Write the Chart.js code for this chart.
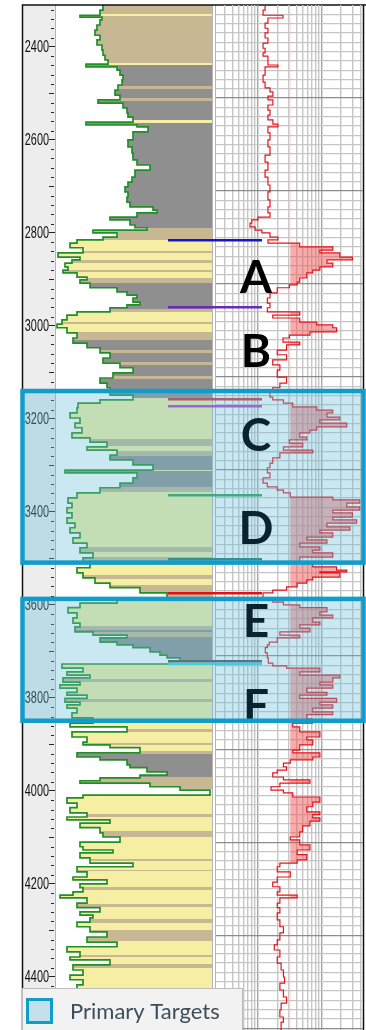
<!DOCTYPE html>
<html>
<head>
<meta charset="utf-8">
<title>Well log – primary targets</title>
<script src="https://cdn.jsdelivr.net/npm/chart.js@4.4.1/dist/chart.umd.min.js"></script>
<style>
  html, body { margin: 0; padding: 0; background: #fff; }
  #wrap { position: relative; width: 366px; height: 1030px; overflow: hidden; }
  #wrap canvas { position: absolute; left: 0; top: 0; }
</style>
</head>
<body>
<div id="wrap">
  <canvas id="gr" width="366" height="1030"></canvas>
  <canvas id="res" width="366" height="1030"></canvas>
</div>
<script>
// depth window (m) and depth labels
const depthTop = 2310;
const depthBase = 4514;
const depthTicks = [2400, 2600, 2800, 3000, 3200, 3400, 3600, 3800, 4000, 4200, 4400];

// gamma ray track: [depth, GR]
const grScaleMax = 157;
const grSamples = [
  [2310,48],[2321,45],[2332,25],[2336,47],[2342,45],[2353,42],[2364,40],[2375,45],[2385,42],[2396,47],
  [2407,48],[2418,50],[2428,53],[2437,31],[2443,62],[2450,65],[2461,68],[2471,67],[2482,63],[2493,60],
  [2504,65],[2514,43],[2521,68],[2531,72],[2542,73],[2551,78],[2562,31],[2568,82],[2572,93],[2583,78],
  [2600,73],[2615,77],[2628,78],[2643,82],[2654,95],[2665,80],[2680,77],[2691,73],[2701,70],[2712,73],
  [2723,72],[2734,75],[2744,98],[2751,102],[2757,82],[2766,55],[2772,75],[2783,80],[2789,92],[2794,38],
  [2800,62],[2809,48],[2815,22],[2822,15],[2832,28],[2843,3],[2852,25],[2858,17],[2865,10],[2873,13],
  [2880,8],[2886,22],[2895,32],[2901,25],[2908,35],[2918,62],[2927,72],[2934,82],[2940,78],[2949,85],
  [2955,72],[2961,55],[2970,22],[2977,12],[2987,7],[2996,2],[3004,12],[3015,22],[3026,18],[3037,32],
  [3047,45],[3058,55],[3069,48],[3080,65],[3090,78],[3101,58],[3112,45],[3123,52],[3133,55],[3149,78],
  [3159,45],[3166,23],[3176,22],[3187,15],[3198,25],[3209,20],[3219,27],[3230,17],[3241,35],[3250,52],
  [3260,32],[3267,62],[3278,55],[3288,78],[3299,98],[3310,10],[3316,82],[3327,78],[3338,65],[3348,45],
  [3359,22],[3370,13],[3381,17],[3391,12],[3402,17],[3413,12],[3424,20],[3434,15],[3445,25],[3456,18],
  [3467,32],[3477,25],[3488,38],[3499,28],[3510,35],[3520,22],[3531,28],[3542,40],[3553,55],[3563,85],
  [3574,112],[3585,62],[3596,25],[3606,13],[3617,22],[3628,18],[3639,25],[3647,20],[3658,38],[3665,72],
  [3671,45],[3680,62],[3686,78],[3692,95],[3701,105],[3708,112],[3714,125],[3721,115],[3727,7],[3736,28],
  [3744,12],[3751,35],[3757,8],[3766,25],[3772,5],[3779,22],[3788,12],[3794,32],[3801,10],[3809,25],
  [3815,12],[3822,22],[3832,17],[3843,38],[3854,15],[3862,72],[3873,17],[3884,32],[3895,28],[3901,55],
  [3907,85],[3918,22],[3927,45],[3933,72],[3944,75],[3950,92],[3959,112],[3966,85],[3972,45],[3978,25],
  [3983,95],[3991,125],[3998,155],[4004,155],[4009,28],[4015,12],[4026,22],[4036,15],[4047,32],[4056,12],
  [4062,55],[4069,25],[4079,45],[4090,48],[4099,65],[4110,25],[4120,28],[4127,58],[4133,25],[4144,35],
  [4155,78],[4163,22],[4174,32],[4185,18],[4191,52],[4200,25],[4208,28],[4217,18],[4224,5],[4230,32],
  [4241,22],[4251,45],[4260,25],[4267,38],[4273,35],[4282,22],[4292,35],[4303,52],[4314,32],[4325,62],
  [4335,12],[4346,25],[4357,15],[4363,55],[4374,18],[4385,28],[4396,15],[4406,28],[4417,22],[4449,25],
  [4482,23],[4514,25]
];

// lithology column: [top depth, kind]
const lithology = [
  [2310,'tan'],[2330,'sand'],[2334,'tan'],[2435,'sand'],[2440,'shale'],[2485,'tan'],[2490,'shale'],
  [2511,'tan'],[2517,'shale'],[2558,'sand'],[2563,'shale'],[2789,'tan'],[2815,'sand'],[2839,'tan'],
  [2844,'sand'],[2859,'tan'],[2864,'sand'],[2879,'tan'],[2884,'sand'],[2896,'tan'],[2908,'shale'],
  [2963,'tan'],[2970,'sand'],[2991,'tan'],[2995,'sand'],[3013,'tan'],[3030,'shale'],[3051,'tan'],
  [3059,'shale'],[3077,'tan'],[3085,'shale'],[3107,'tan'],[3115,'shale'],[3155,'sand'],[3244,'tan'],
  [3259,'sand'],[3270,'tan'],[3279,'shale'],[3309,'sand'],[3313,'shale'],[3347,'tan'],[3358,'sand'],
  [3476,'tan'],[3487,'sand'],[3498,'tan'],[3505,'sand'],[3535,'tan'],[3545,'sand'],[3558,'tan'],
  [3585,'sand'],[3646,'tan'],[3653,'shale'],[3659,'tan'],[3670,'shale'],[3722,'sand'],[3760,'tan'],
  [3765,'sand'],[3803,'tan'],[3808,'sand'],[3867,'tan'],[3874,'sand'],[3896,'tan'],[3902,'sand'],
  [3915,'tan'],[3921,'shale'],[3971,'tan'],[3995,'sand'],[4050,'tan'],[4055,'sand'],[4087,'tan'],
  [4100,'sand'],[4147,'tan'],[4151,'sand'],[4169,'tan'],[4173,'sand'],[4207,'tan'],[4214,'sand'],
  [4244,'tan'],[4249,'sand'],[4276,'tan'],[4283,'sand'],[4300,'tan'],[4322,'sand'],[4352,'tan'],
  [4356,'sand'],[4373,'tan'],[4380,'sand']
];

// resistivity track (ohm.m, log): [depth, value]
const resMin = 2.2;
const resMax = 440;
const resCutoff = 32;
const resGridTicks = [3, 4, 5, 6, 7, 8, 9, 10, 20, 30, 40, 50, 60, 70, 80, 90, 100, 200, 300, 400];
const resSamples = [
  [2310,12.9],[2321,12],[2332,24.6],[2338,14.3],[2349,12.9],[2360,14.3],[2370,12.9],[2381,14.3],[2392,12],
  [2403,12.9],[2413,12],[2420,14.3],[2439,20.5],[2443,12.9],[2461,12],[2476,12.9],[2488,15.4],[2497,17.1],
  [2506,14.3],[2514,17.1],[2525,14.3],[2536,15.4],[2547,14.3],[2557,17.1],[2566,20.5],[2572,14.3],[2585,15.4],
  [2600,14.3],[2615,15.4],[2633,12.9],[2648,14.3],[2665,12.9],[2680,14.3],[2697,15.4],[2712,14.3],[2729,15.4],
  [2744,14.3],[2757,15.4],[2766,10],[2772,8],[2779,7.5],[2787,9],[2794,11.5],[2800,15.4],[2809,20.5],
  [2815,14.3],[2822,45],[2830,148],[2837,93],[2843,191],[2852,300],[2858,120],[2865,148],[2873,93],[2880,72],
  [2886,58],[2897,45],[2906,41],[2912,31],[2918,20],[2929,15.4],[2940,14],[2951,15.4],[2961,14],[2970,45],
  [2977,17],[2983,45],[2992,83],[2998,148],[3004,170],[3013,65],[3020,31],[3026,24.6],[3035,45],[3041,28],
  [3052,20],[3062,28],[3073,17],[3084,22],[3095,20],[3110,28],[3123,22],[3133,17],[3142,15.4],[3153,17],
  [3159,25],[3166,35],[3174,83],[3181,148],[3187,120],[3196,191],[3202,93],[3209,245],[3217,83],[3224,65],
  [3230,45],[3239,58],[3245,31],[3252,50],[3260,25],[3267,72],[3273,22],[3284,17],[3295,15.4],[3305,14],
  [3316,15.4],[3327,12],[3338,14],[3346,20],[3353,25],[3359,32],[3368,148],[3374,391],[3381,245],[3389,391],
  [3396,148],[3402,300],[3411,148],[3417,350],[3424,120],[3432,275],[3439,93],[3445,148],[3454,58],[3460,120],
  [3467,45],[3475,93],[3482,72],[3488,148],[3497,45],[3508,72],[3518,170],[3525,245],[3529,93],[3531,191],
  [3540,72],[3546,58],[3553,41],[3561,28],[3568,17],[3574,12],[3585,17],[3594,25],[3600,45],[3606,120],
  [3615,93],[3622,148],[3628,72],[3637,93],[3643,45],[3650,65],[3658,22],[3665,45],[3671,20],[3680,15],
  [3686,14],[3692,13],[3703,14],[3714,14.5],[3725,17],[3731,28],[3736,93],[3744,45],[3751,191],[3757,148],
  [3766,93],[3772,148],[3779,58],[3788,120],[3794,45],[3801,170],[3809,93],[3815,148],[3822,72],[3830,148],
  [3836,58],[3845,72],[3854,35],[3862,45],[3873,93],[3884,58],[3890,72],[3901,45],[3912,35],[3918,93],
  [3927,72],[3933,32],[3940,25],[3948,28],[3955,20],[3961,17],[3970,25],[3976,65],[3983,22],[3991,16],
  [3998,25],[4004,35],[4013,93],[4024,72],[4034,58],[4045,93],[4051,72],[4058,93],[4065,65],[4075,50],
  [4088,45],[4099,32],[4105,45],[4116,65],[4127,41],[4137,58],[4148,41],[4155,22],[4163,20],[4174,32],
  [4185,20],[4196,17],[4206,22],[4217,20],[4224,41],[4230,22],[4241,20],[4251,22],[4262,20],[4277,22],
  [4292,25],[4305,22],[4320,20],[4331,18],[4342,22],[4357,20],[4370,23],[4385,25],[4400,26],[4413,22],
  [4428,25],[4443,28],[4456,23],[4471,22],[4486,25],[4497,23],[4514,22]
];

// formation tops, zones and targets
const markerDepth = [2816, 2960, 3158, 3173, 3364, 3502, 3575, 3721, 3727];
const zoneNames = ['A', 'B', 'C', 'D', 'E', 'F'];
const zoneMid = [2894, 3052, 3234, 3433, 3633, 3817];
const targetTop = [3140, 3587];
const targetBase = [3509, 3849];
const legendLabel = 'Primary Targets';

// styles
const LITH_COLORS = { sand: '#f6efa3', tan: '#c8b793', shale: '#8f8f8f' };
const MARKER_COLORS = ['#1616c8', '#6a2ab8', '#d42a3c', '#b238de', '#2f9e55', '#1c7a68', '#e31212', '#3f5560', '#38d2ea'];
const TARGET_EDGE = '#119cca';
const TARGET_TINT = 'rgba(100,190,215,0.35)';

let lithCache = null;
function lithGradient(chart) {
  const area = chart.chartArea;
  if (!area) return LITH_COLORS.sand;
  const key = area.top + ':' + area.bottom;
  if (lithCache && lithCache.key === key) return lithCache.g;
  const ys = chart.scales.y;
  const h = area.bottom - area.top;
  const frac = d => Math.min(Math.max((ys.getPixelForValue(d) - area.top) / h, 0), 1);
  const g = chart.ctx.createLinearGradient(0, area.top, 0, area.bottom);
  lithology.forEach(([d, kind], i) => {
    const next = i + 1 < lithology.length ? lithology[i + 1][0] : depthBase;
    g.addColorStop(frac(d), LITH_COLORS[kind]);
    g.addColorStop(frac(next), LITH_COLORS[kind]);
  });
  lithCache = { key, g };
  return g;
}

let payCache = null;
function payGradient(chart) {
  const area = chart.chartArea;
  if (!area) return 'rgba(0,0,0,0)';
  const key = area.left + ':' + area.right;
  if (payCache && payCache.key === key) return payCache.g;
  const f = (chart.scales.x.getPixelForValue(resCutoff) - area.left) / (area.right - area.left);
  const g = chart.ctx.createLinearGradient(area.left, 0, area.right, 0);
  g.addColorStop(0, 'rgba(240,80,80,0)');
  g.addColorStop(f, 'rgba(240,80,80,0)');
  g.addColorStop(f, 'rgba(240,80,80,0.48)');
  g.addColorStop(1, 'rgba(240,80,80,0.48)');
  payCache = { key, g };
  return g;
}

const grFrame = {
  id: 'grFrame',
  beforeDraw(chart) {
    const { ctx, chartArea: a } = chart;
    ctx.save();
    ctx.fillStyle = '#fff';
    ctx.fillRect(0, 0, chart.width, chart.height);
    ctx.fillStyle = '#eeeded';
    ctx.fillRect(22, a.top, a.left - 22, a.bottom - a.top);
    ctx.restore();
  },
  afterDraw(chart) {
    const { ctx, chartArea: a } = chart;
    const ys = chart.scales.y;
    ctx.save();
    // depth labels, narrow like the log header font
    ctx.fillStyle = '#111';
    ctx.font = '16px "Liberation Sans", Arial, sans-serif';
    ctx.textAlign = 'right';
    ctx.textBaseline = 'middle';
    depthTicks.forEach(v => {
      ctx.save();
      ctx.translate(a.left - 6, ys.getPixelForValue(v) + 0.5);
      ctx.scale(0.68, 1);
      ctx.fillText(String(v), 0, 0);
      ctx.restore();
    });
    // minor depth ticks
    ctx.strokeStyle = '#222';
    ctx.lineWidth = 1;
    for (let v = depthTop + 10; v < depthBase; v += 20) {
      if (v % 200 === 0) continue;
      const y = Math.round(ys.getPixelForValue(v)) + 0.5;
      const len = v % 100 === 0 ? 5 : 3;
      ctx.beginPath();
      ctx.moveTo(a.left - len - 1, y);
      ctx.lineTo(a.left - 1, y);
      ctx.stroke();
    }
    // track frames
    ctx.strokeStyle = '#b4b4b4';
    ctx.beginPath();
    ctx.moveTo(a.left + 0.5, a.top); ctx.lineTo(a.left + 0.5, a.bottom);
    ctx.moveTo(a.right + 0.5, a.top); ctx.lineTo(a.right + 0.5, a.bottom);
    ctx.moveTo(215.5, a.top); ctx.lineTo(215.5, a.bottom);
    ctx.stroke();
    ctx.strokeStyle = '#111';
    ctx.lineWidth = 1.5;
    ctx.beginPath();
    ctx.moveTo(22.5, a.bottom); ctx.lineTo(22.5, a.top); ctx.lineTo(366, a.top);
    ctx.moveTo(363.5, a.top); ctx.lineTo(363.5, a.bottom);
    ctx.stroke();
    ctx.restore();
  }
};

const overlay = {
  id: 'overlay',
  afterDraw(chart) {
    const { ctx } = chart;
    const ys = chart.scales.y;
    ctx.save();
    // formation tops
    ctx.lineWidth = 2.5;
    markerDepth.forEach((d, i) => {
      const y = ys.getPixelForValue(d);
      ctx.strokeStyle = MARKER_COLORS[i];
      ctx.beginPath();
      ctx.moveTo(168, y);
      ctx.lineTo(262, y);
      ctx.stroke();
    });
    // target tint
    ctx.fillStyle = TARGET_TINT;
    targetTop.forEach((d, i) => {
      const y0 = ys.getPixelForValue(d), y1 = ys.getPixelForValue(targetBase[i]);
      ctx.fillRect(22.5, y0, 341, y1 - y0);
    });
    // zone letters
    ctx.font = 'bold 46px Lato, "Open Sans", sans-serif';
    ctx.textAlign = 'center';
    ctx.textBaseline = 'alphabetic';
    zoneNames.forEach((name, i) => {
      const d = zoneMid[i];
      const inTarget = targetTop.some((t, k) => d > t && d < targetBase[k]);
      ctx.fillStyle = inTarget ? '#0b2330' : '#000';
      ctx.fillText(name, 256, ys.getPixelForValue(d) + 16.5);
    });
    // target outlines
    ctx.strokeStyle = TARGET_EDGE;
    ctx.lineWidth = 4.5;
    targetTop.forEach((d, i) => {
      const y0 = ys.getPixelForValue(d), y1 = ys.getPixelForValue(targetBase[i]);
      ctx.strokeRect(22.5, y0, 341, y1 - y0);
    });
    // legend
    ctx.fillStyle = '#f2f2f2';
    ctx.fillRect(22, 988, 221, 50);
    ctx.strokeStyle = '#bdbdbd';
    ctx.lineWidth = 1;
    ctx.strokeRect(22.5, 988.5, 220, 50);
    ctx.fillStyle = '#c2e1ea';
    ctx.fillRect(27, 999, 25, 24);
    ctx.strokeStyle = TARGET_EDGE;
    ctx.lineWidth = 3;
    ctx.strokeRect(27.5, 999.5, 24, 23);
    ctx.fillStyle = '#3c4e5c';
    ctx.font = '22px Lato, "Open Sans", sans-serif';
    ctx.textAlign = 'left';
    ctx.fillText(legendLabel, 70, 1019);
    ctx.restore();
  }
};

const grChart = new Chart(document.getElementById('gr'), {
  type: 'line',
  data: {
    datasets: [{
      data: grSamples.map(([d, v]) => ({ x: v, y: d })),
      borderColor: '#1f8f26',
      borderWidth: 1.7,
      backgroundColor: c => lithGradient(c.chart),
      fill: { value: grScaleMax },
      stepped: 'after',
      pointRadius: 0
    }]
  },
  options: {
    indexAxis: 'y',
    responsive: false,
    animation: false,
    layout: { padding: { left: 22, right: 154, top: 5, bottom: 0 } },
    plugins: { legend: { display: false }, tooltip: { enabled: false } },
    scales: {
      x: { type: 'linear', min: 0, max: grScaleMax, display: false },
      y: {
        type: 'linear', reverse: true, min: depthTop, max: depthBase,
        afterBuildTicks: s => { s.ticks = depthTicks.map(v => ({ value: v })); },
        afterFit: s => { s.width = 33; },
        ticks: { display: false },
        grid: { drawOnChartArea: false, tickLength: 6, tickColor: '#222', tickWidth: 1 },
        border: { display: false }
      }
    }
  },
  plugins: [grFrame]
});

const resChart = new Chart(document.getElementById('res'), {
  type: 'line',
  data: {
    datasets: [{
      data: resSamples.map(([d, v]) => ({ x: v, y: d })),
      borderColor: '#e3141c',
      borderWidth: 1.2,
      backgroundColor: c => payGradient(c.chart),
      fill: { value: resCutoff },
      stepped: 'after',
      pointRadius: 0
    }]
  },
  options: {
    indexAxis: 'y',
    responsive: false,
    animation: false,
    layout: { padding: { left: 216, right: 3, top: 5, bottom: 0 } },
    plugins: { legend: { display: false }, tooltip: { enabled: false } },
    scales: {
      x: {
        type: 'logarithmic', min: resMin, max: resMax, position: 'bottom',
        afterBuildTicks: s => { s.ticks = resGridTicks.map(v => ({ value: v })); },
        afterFit: s => { s.height = 0; },
        ticks: { display: false },
        border: { display: false },
        grid: {
          drawTicks: false, lineWidth: 1.4,
          color: c => (c.tick && (c.tick.value === 10 || c.tick.value === 100) ? '#a6a6a6' : '#c6c6c6')
        }
      },
      y: {
        type: 'linear', reverse: true, min: depthTop, max: depthBase,
        afterBuildTicks: s => {
          const t = [];
          for (let v = depthTop + 20; v < depthBase; v += 20) t.push({ value: v });
          s.ticks = t;
        },
        afterFit: s => { s.width = 0; },
        ticks: { display: false },
        border: { display: false },
        grid: {
          drawTicks: false, lineWidth: 1.2,
          color: c => (c.tick && (c.tick.value - 2510) % 200 === 0 ? '#8c8c8c' : '#c6c6c6')
        }
      }
    }
  },
  plugins: [overlay]
});
</script>
</body>
</html>
